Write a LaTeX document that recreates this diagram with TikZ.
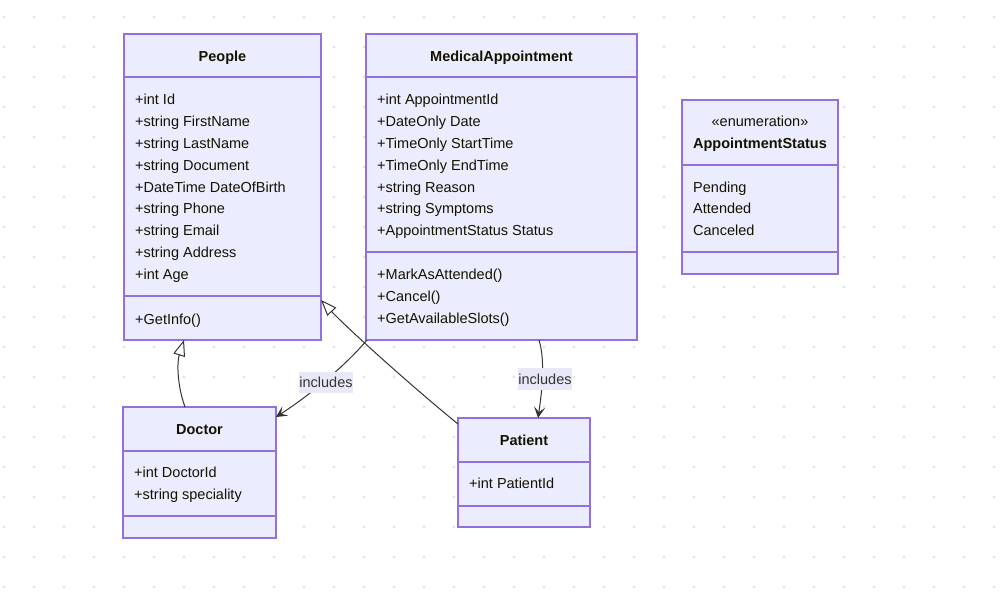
\documentclass[tikz,border=0pt]{standalone}
\usepackage{fontspec}
\setmainfont{Liberation Sans}
\usetikzlibrary{arrows.meta,calc}
\definecolor{boxfill}{HTML}{ECECFF}
\definecolor{boxline}{HTML}{9370DB}
\definecolor{edgecol}{HTML}{333333}
\definecolor{txt}{HTML}{131300}
\definecolor{dotcol}{HTML}{E4E4E4}
\definecolor{lblfill}{HTML}{E8E8F8}
\begin{document}
\begin{tikzpicture}[x=1pt,y=-1pt,
  classbox/.style={draw=boxline, fill=boxfill, line width=1.2pt, inner sep=0pt, outer sep=0pt, anchor=north west},
  divider/.style={draw=boxline, line width=1.2pt},
  attr/.style={anchor=base west, inner sep=0pt, font=\fontsize{14.5}{17}\selectfont, text=txt},
  ctitle/.style={anchor=base, inner sep=0pt, font=\fontsize{14.5}{17}\selectfont\bfseries, text=txt},
  stereo/.style={anchor=base, inner sep=0pt, font=\fontsize{14.5}{17}\selectfont, text=txt},
  edge/.style={draw=edgecol, line width=1pt},
  inherit/.style={edge, -{Triangle[open, length=16pt, width=12pt, fill=white]}},
  assoc/.style={edge, -{Stealth[length=11pt, width=11pt, inset=5pt]}},
  elabel/.style={fill=lblfill, inner sep=0pt, minimum width=54pt, minimum height=21pt, font=\fontsize{14.5}{17}\selectfont, text=edgecol}
]
\useasboundingbox (0,0) rectangle (1002,613);
\fill[white] (0,0) rectangle (1002,613);
\foreach \i in {0,...,33} {
  \foreach \j in {0,...,19} {
    \fill[dotcol] (4+30*\i, 17+30*\j) circle (1.6pt);
  }
}

% People
\node[classbox, minimum width=197pt, minimum height=306pt] (people) at (124,34) {};
\draw[divider] (124,77) -- (321,77);
\draw[divider] (124,296) -- (321,296);
\node[ctitle] (peopleT) at (222.5,61) {People};
\node[attr] (pa1) at (135,104.3) {+int Id};
\node[attr] (pa2) at (135,126.3) {+string FirstName};
\node[attr] (pa3) at (135,148.2) {+string LastName};
\node[attr] (pa4) at (135,170.1) {+string Document};
\node[attr] (pa5) at (135,192) {+DateTime DateOfBirth};
\node[attr] (pa6) at (135,213.9) {+string Phone};
\node[attr] (pa7) at (135,235.8) {+string Email};
\node[attr] (pa8) at (135,257.7) {+string Address};
\node[attr] (pa9) at (135,279.6) {+int Age};
\node[attr] (pm1) at (135,324) {+GetInfo()};

% MedicalAppointment
\node[classbox, minimum width=271pt, minimum height=306pt] (med) at (366,34) {};
\draw[divider] (366,77) -- (637,77);
\draw[divider] (366,252) -- (637,252);
\node[ctitle] (medT) at (501.5,61) {MedicalAppointment};
\node[attr] (ma1) at (377,104.3) {+int AppointmentId};
\node[attr] (ma2) at (377,126.3) {+DateOnly Date};
\node[attr] (ma3) at (377,148.2) {+TimeOnly StartTime};
\node[attr] (ma4) at (377,170.1) {+TimeOnly EndTime};
\node[attr] (ma5) at (377,192) {+string Reason};
\node[attr] (ma6) at (377,213.9) {+string Symptoms};
\node[attr] (ma7) at (377,235.8) {+AppointmentStatus Status};
\node[attr] (mm1) at (377,279.6) {+MarkAsAttended()};
\node[attr] (mm2) at (377,301.5) {+Cancel()};
\node[attr] (mm3) at (377,323.4) {+GetAvailableSlots()};

% AppointmentStatus
\node[classbox, minimum width=156pt, minimum height=174pt] (status) at (682,100) {};
\draw[divider] (682,165) -- (838,165);
\draw[divider] (682,252) -- (838,252);
\node[stereo] (statusS) at (760,126) {«enumeration»};
\node[ctitle] (statusT) at (760,148.2) {AppointmentStatus};
\node[attr] (s1) at (693,192) {Pending};
\node[attr] (s2) at (693,213.9) {Attended};
\node[attr] (s3) at (693,235.8) {Canceled};

% Doctor
\node[classbox, minimum width=153pt, minimum height=131pt] (doctor) at (123,407) {};
\draw[divider] (123,451) -- (276,451);
\draw[divider] (123,516) -- (276,516);
\node[ctitle] (doctorT) at (199.5,434) {Doctor};
\node[attr] (d1) at (134,477.3) {+int DoctorId};
\node[attr] (d2) at (134,499.2) {+string speciality};

% Patient
\node[classbox, minimum width=132pt, minimum height=109pt] (patient) at (458,418) {};
\draw[divider] (458,462) -- (590,462);
\draw[divider] (458,506) -- (590,506);
\node[ctitle] (patientT) at (524,445) {Patient};
\node[attr] (pt1) at (469,488.3) {+int PatientId};

% Edges
\draw[inherit] ([xshift=-14.5pt]doctor.north) .. controls (177,385) and (177,362) .. ([xshift=-38.5pt]people.south);
\draw[inherit] ([yshift=-6pt]patient.north west) .. controls (410,385) and (345,326) .. ([yshift=40pt]people.south east);
\draw[assoc] ([xshift=1pt]med.south west) .. controls (345,366) and (310,395) .. ([yshift=-10pt]doctor.north east);
\draw[assoc] ([xshift=37.5pt]med.south) .. controls (546,362) and (541,398) .. ([xshift=14pt]patient.north);

\node[elabel] (lbl1) at (326,382.5) {includes};
\node[elabel, minimum height=22pt] (lbl2) at (545,379) {includes};
\end{tikzpicture}
\end{document}
